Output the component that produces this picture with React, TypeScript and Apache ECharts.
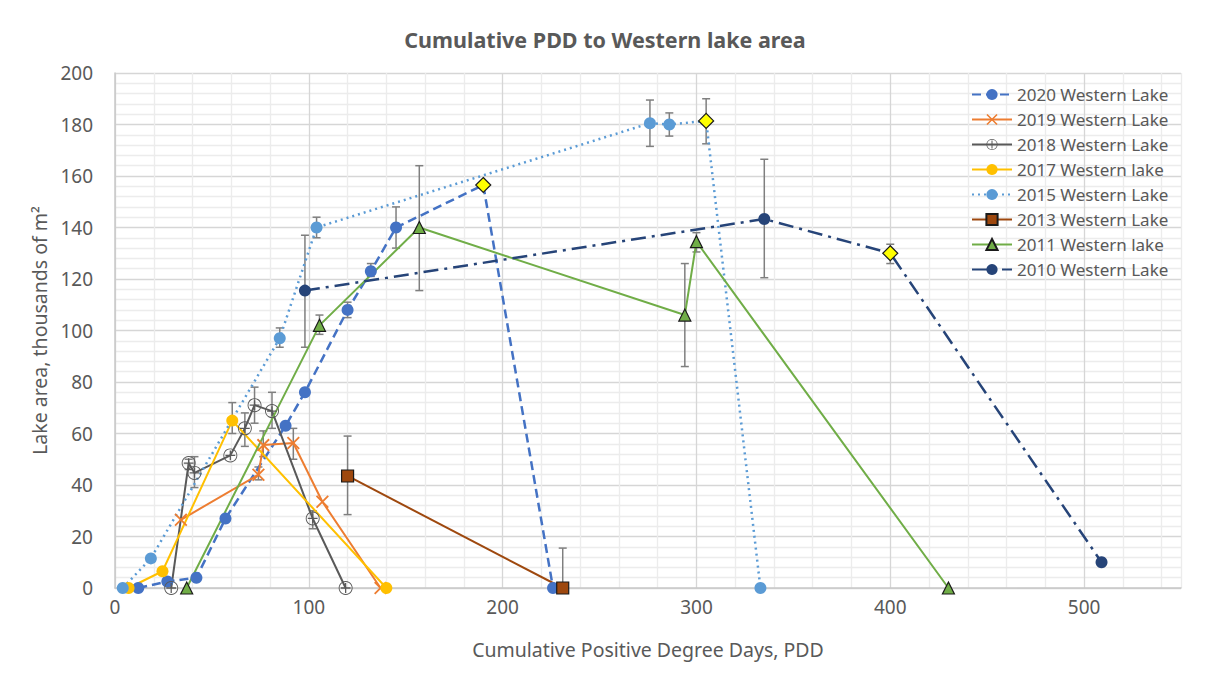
import React, { useEffect, useRef } from "react";
import * as echarts from "echarts";

// ---------- data ----------
const seriesNames = [
  "2020 Western Lake",
  "2019 Western Lake",
  "2018 Western Lake",
  "2017 Western lake",
  "2015 Western Lake",
  "2013 Western Lake",
  "2011 Western lake",
  "2010 Western Lake",
];

const s2020 = [[12, 0], [27, 2.5], [42, 4], [57, 27], [88, 63], [98, 76], [120, 108], [132, 123], [145, 140], [190, 156.5], [226, 0]];
const s2019 = [[34, 26.5], [74, 44], [76.5, 55.5], [92, 56.3], [107, 33.5], [137, 0]];
const s2018 = [[29, 0], [38, 48.5], [41, 44.7], [59.5, 51.5], [67, 62], [72, 71], [81, 68.7], [102, 27], [119, 0]];
const s2017 = [[7, 0], [24.5, 6.5], [60.5, 65], [140, 0]];
const s2015 = [[4, 0], [18.5, 11.5], [85, 97], [104, 140], [276, 180.5], [286, 180], [305, 181.4], [333, 0]];
const s2013 = [[120, 43.5], [231, 0]];
const s2011 = [[37, 0], [105.5, 102], [157, 140], [294, 106], [300, 134.5], [430, 0]];
const s2010 = [[98, 115.5], [335, 143.3], [400, 130], [509, 10]];

// index of the highlighted (yellow diamond) point in each series
const highlight2020 = 9;
const highlight2015 = 6;
const highlight2010 = 2;

// error bars: [x, low, high]
const err2020 = [[120, 105, 111], [132, 121, 126], [145, 132, 148]];
const err2019 = [[74, 42, 47], [76.5, 51, 61], [92, 50, 62]];
const err2018 = [[38, 46, 50], [41, 39, 51], [67, 55, 68], [72, 64, 78], [81, 62, 76], [102, 23, 30]];
const err2017 = [[60.5, 60, 72]];
const err2015 = [[85, 93.5, 101], [104, 136, 144], [276, 171.5, 189.5], [286, 175.5, 184.5], [305, 172.5, 190]];
const err2013 = [[120, 28.5, 59], [231, 0, 15.5]];
const err2011 = [[105.5, 98.5, 106], [157, 115.5, 164], [294, 86, 126], [300, 130.5, 138]];
const err2010 = [[98, 93.5, 137], [335, 120.5, 166.5], [400, 126, 133.5]];

const xTickStep = 100;
const yTickStep = 20;

// ---------- styling ----------
const FONT = "Noto Sans";
const TXT = "#595959";

const plusCircle =
  "path://M10,0 A10,10 0 1,1 9.99,0 Z M10,1.3 A8.7,8.7 0 1,0 10.01,1.3 Z M9.1,3 H10.9 V9.1 H17 V10.9 H10.9 V17 H9.1 V10.9 H3 V9.1 H9.1 Z";
const xMark = "path://M0,1 L1,0 L10,9 L9,10 Z M9,0 L10,1 L1,10 L0,9 Z";

function withHighlight(data: number[][], idx: number) {
  return data.map((d, i) =>
    i === idx
      ? {
          value: d,
          symbol: "diamond",
          symbolSize: 15,
          itemStyle: { color: "#FFFF00", borderColor: "#1a1a1a", borderWidth: 1.2 },
        }
      : { value: d }
  );
}

function errSeries(data: number[][]) {
  return {
    type: "custom",
    z: 1,
    silent: true,
    data,
    encode: { x: 0, y: [1, 2] },
    renderItem: (params: any, api: any) => {
      const x = api.value(0);
      const p1 = api.coord([x, api.value(1)]);
      const p2 = api.coord([x, api.value(2)]);
      const style = { stroke: "#7f7f7f", lineWidth: 1.5 };
      const cap = 4;
      return {
        type: "group",
        children: [
          { type: "line", shape: { x1: p1[0], y1: p1[1], x2: p2[0], y2: p2[1] }, style },
          { type: "line", shape: { x1: p1[0] - cap, y1: p1[1], x2: p1[0] + cap, y2: p1[1] }, style },
          { type: "line", shape: { x1: p2[0] - cap, y1: p2[1], x2: p2[0] + cap, y2: p2[1] }, style },
        ],
      };
    },
  };
}

function lineSeries(name: string, data: any[], color: string, lineType: any, width: number, symbol: string, symbolSize: number, itemExtra: any = {}) {
  return {
    name,
    type: "line",
    z: 3,
    data,
    symbol,
    symbolSize,
    showSymbol: true,
    lineStyle: { color, type: lineType, width },
    itemStyle: { color, ...itemExtra },
  };
}

export default function App() {
  const ref = useRef<HTMLDivElement>(null);
  useEffect(() => {
    if (!ref.current) return;
    const chart = echarts.init(ref.current, undefined, { renderer: "svg" });
    const minorGrid = "#ececec";
    const majorGrid = "#d6d6d6";
    chart.setOption({
      animation: false,
      backgroundColor: "#ffffff",
      title: {
        text: "Cumulative PDD to Western lake area",
        left: "center",
        top: 23,
        textStyle: { fontFamily: FONT, fontSize: 21.5, fontWeight: "bold", color: TXT },
      },
      legend: {
        data: seriesNames,
        orient: "vertical",
        left: 966,
        top: 81,
        itemWidth: 40,
        itemHeight: 14,
        itemGap: 8,
        textStyle: { fontFamily: FONT, fontSize: 17, color: TXT },
      },
      grid: { left: 115, right: 29, top: 73, bottom: 88, containLabel: false },
      xAxis: {
        type: "value",
        min: 0,
        max: 550,
        interval: 20,
        name: "Cumulative Positive Degree Days, PDD",
        nameLocation: "middle",
        nameGap: 51,
        nameTextStyle: { fontFamily: FONT, fontSize: 19.5, color: TXT },
        axisLine: { show: true, lineStyle: { color: "#c8c8c8", width: 1.5 } },
        axisTick: { show: false },
        axisLabel: {
          fontFamily: FONT,
          fontSize: 19,
          color: TXT,
          margin: 9,
          showMaxLabel: true,
          formatter: (v: number) => (v % xTickStep === 0 ? String(v) : ""),
        },
        splitLine: {
          show: true,
          lineStyle: { color: [majorGrid, minorGrid, minorGrid, minorGrid, minorGrid], width: 1.3 },
        },
      },
      yAxis: {
        type: "value",
        min: 0,
        max: 200,
        interval: 4,
        name: "Lake area, thousands of m\u00B2",
        nameLocation: "middle",
        nameGap: 64,
        nameTextStyle: { fontFamily: FONT, fontSize: 19.5, color: TXT },
        axisLine: { show: true, lineStyle: { color: "#c8c8c8", width: 1.5 } },
        axisTick: { show: false },
        axisLabel: {
          fontFamily: FONT,
          fontSize: 19,
          color: TXT,
          margin: 22,
          formatter: (v: number) => (v % yTickStep === 0 ? String(v) : ""),
        },
        splitLine: {
          show: true,
          lineStyle: { color: [majorGrid, minorGrid, minorGrid, minorGrid, minorGrid], width: 1.3 },
        },
      },
      series: [
        lineSeries(seriesNames[0], withHighlight(s2020, highlight2020), "#4472C4", [9, 5], 2.5, "circle", 12),
        lineSeries(seriesNames[1], s2019, "#ED7D31", "solid", 2, xMark, 13),
        lineSeries(seriesNames[2], s2018, "#595959", "solid", 2, plusCircle, 14),
        lineSeries(seriesNames[3], s2017, "#FFC000", "solid", 2, "circle", 12),
        lineSeries(seriesNames[4], withHighlight(s2015, highlight2015), "#5B9BD5", [2, 4], 2.5, "circle", 12),
        lineSeries(seriesNames[5], s2013, "#9E480E", "solid", 2, "rect", 12, { borderColor: "#1a1a1a", borderWidth: 1.2 }),
        lineSeries(seriesNames[6], s2011, "#70AD47", "solid", 2, "triangle", 12, { borderColor: "#1a1a1a", borderWidth: 1.2 }),
        lineSeries(seriesNames[7], withHighlight(s2010, highlight2010), "#264478", [15, 6, 3, 6], 2.5, "circle", 12),
        errSeries(err2020),
        errSeries(err2019),
        errSeries(err2018),
        errSeries(err2017),
        errSeries(err2015),
        errSeries(err2013),
        errSeries(err2011),
        errSeries(err2010),
      ],
    });
    return () => chart.dispose();
  }, []);
  return (
    <div
      ref={ref}
      style={{ position: "fixed", left: 0, top: 0, width: 1210, height: 676, background: "#fff" }}
    />
  );
}
